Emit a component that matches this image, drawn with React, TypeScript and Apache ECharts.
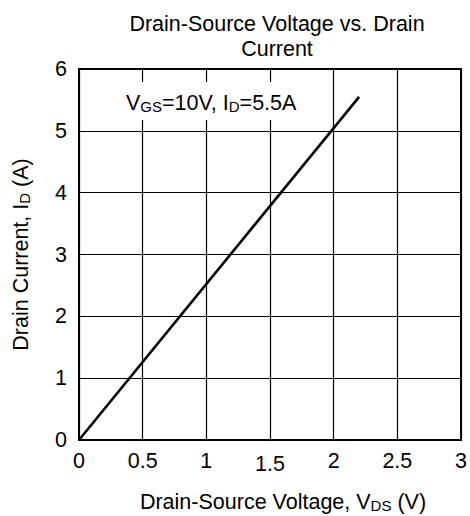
import React, { useEffect, useRef } from "react";
import * as echarts from "echarts";

const xTicks = [0, 0.5, 1, 1.5, 2, 2.5, 3];
const yTicks = [0, 1, 2, 3, 4, 5, 6];
const vdsValues = [0, 2.2];
const idValues = [0, 5.55];
const titleLines = ["Drain-Source Voltage vs. Drain", "Current"];

const FONT = "'Liberation Sans', Arial, Helvetica, sans-serif";

export default function App() {
  const ref = useRef<HTMLDivElement>(null);
  useEffect(() => {
    if (!ref.current) return;
    const chart = echarts.init(ref.current, undefined, { renderer: "svg" });
    const data = vdsValues.map((v, i) => [v, idValues[i]]);
    chart.setOption({
      animation: false,
      backgroundColor: "#fff",
      textStyle: { fontFamily: FONT, color: "#000" },
      title: {
        text: titleLines.join("\n"),
        left: 272,
        top: 6,
        textAlign: "center",
        textStyle: { fontFamily: FONT, fontSize: 21.5, fontWeight: "normal", color: "#000", lineHeight: 25 },
      },
      grid: {
        left: 79, right: 9, top: 69, bottom: 76,
        containLabel: false,
        outerBoundsMode: "none",
        show: true, borderColor: "#000", borderWidth: 2, backgroundColor: "transparent",
      },
      xAxis: {
        type: "value",
        min: xTicks[0],
        max: xTicks[xTicks.length - 1],
        interval: 0.5,
        axisLine: { show: true, lineStyle: { color: "#000", width: 2 } },
        axisTick: { show: false },
        splitLine: { show: true, lineStyle: { color: "#000", width: 1.2 } },
        axisLabel: {
          margin: 10,
          formatter: (v: number) => (v === 1.5 ? `{low|${v}}` : `{n|${v}}`),
          rich: {
            n: { fontFamily: FONT, fontSize: 21.5, color: "#000" },
            low: { fontFamily: FONT, fontSize: 21.5, color: "#000", padding: [3, 0, 0, 0] },
          },
        },
        name: "{n|Drain-Source Voltage, V}{s|DS}{n| (V)}",
        nameLocation: "middle",
        nameGap: 47,
        nameTextStyle: {
          padding: [0, 0, 0, 26],
          rich: {
            n: { fontFamily: FONT, fontSize: 21.5, color: "#000", lineHeight: 26, verticalAlign: "bottom" },
            s: { fontFamily: FONT, fontSize: 15, color: "#000", lineHeight: 18, verticalAlign: "bottom" },
          },
        },
      },
      yAxis: {
        type: "value",
        min: yTicks[0],
        max: yTicks[yTicks.length - 1],
        interval: 1,
        axisLine: { show: true, lineStyle: { color: "#000", width: 2 } },
        axisTick: { show: false },
        splitLine: { show: true, lineStyle: { color: "#000", width: 1.2 } },
        axisLabel: { margin: 12, fontFamily: FONT, fontSize: 21.5, color: "#000" },
        name: "{n|Drain Current, I}{s|D}{n| (A)}",
        nameLocation: "middle",
        nameRotate: 90,
        nameGap: 47,
        nameTextStyle: {
          rich: {
            n: { fontFamily: FONT, fontSize: 21.5, color: "#000", lineHeight: 26, verticalAlign: "bottom" },
            s: { fontFamily: FONT, fontSize: 15, color: "#000", lineHeight: 18, verticalAlign: "bottom" },
          },
        },
      },
      series: [
        {
          type: "line",
          data,
          symbol: "none",
          lineStyle: { color: "#000", width: 2.6 },
          z: 5,
        },
      ],
      graphic: [
        {
          type: "text",
          left: 119,
          top: 82,
          z: 100,
          style: {
            text: "{n|V}{s|GS}{n|=10V, I}{s|D}{n|=5.5A}",
            backgroundColor: "#fff",
            padding: [6, 7, 6, 7],
            rich: {
              n: { fontFamily: FONT, fontSize: 21.5, fill: "#000", lineHeight: 26, verticalAlign: "bottom" },
              s: { fontFamily: FONT, fontSize: 15, fill: "#000", lineHeight: 18, verticalAlign: "bottom" },
            },
          },
        },
      ],
    });
    return () => chart.dispose();
  }, []);
  return <div ref={ref} style={{ position: "fixed", left: 0, top: 0, width: 470, height: 516 }} />;
}
